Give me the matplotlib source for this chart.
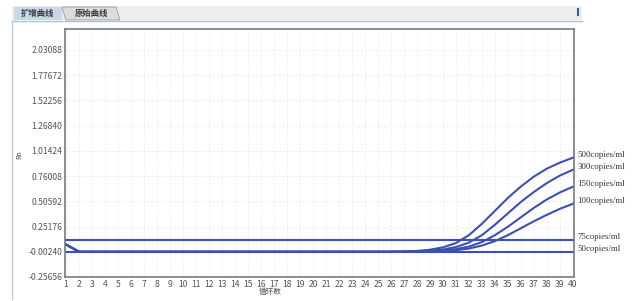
import numpy as np
import matplotlib.pyplot as plt
from matplotlib.patches import Rectangle, Polygon
from matplotlib.lines import Line2D

plt.rcParams['font.family'] = ['Noto Sans CJK SC', 'DejaVu Sans']

# 数据
cycles = list(range(1, 41))
base = [0.07] + [-0.0024] * 25
curve_500 = base + [0.001, 0.006, 0.018, 0.042, 0.085, 0.165, 0.28, 0.41, 0.54, 0.655, 0.755, 0.835, 0.895, 0.945]
curve_300 = base + [-0.002, 0.002, 0.008, 0.02, 0.045, 0.09, 0.165, 0.27, 0.385, 0.50, 0.60, 0.69, 0.765, 0.823]
curve_150 = base + [-0.002, -0.001, 0.003, 0.01, 0.024, 0.05, 0.095, 0.165, 0.25, 0.345, 0.44, 0.525, 0.595, 0.652]
curve_100 = base + [-0.002, -0.002, 0.0, 0.004, 0.013, 0.03, 0.06, 0.105, 0.165, 0.235, 0.305, 0.37, 0.43, 0.481]
curve_75 = [0.117] * 40
curve_50 = [-0.0024] * 40
curves = [curve_500, curve_300, curve_150, curve_100, curve_75, curve_50]
labels = ["500copies/ml", "300copies/ml", "150copies/ml", "100copies/ml", "75copies/ml", "50copies/ml"]

yticks = [-0.25656, -0.00240, 0.25176, 0.50592, 0.76008, 1.01424, 1.26840, 1.52256, 1.77672, 2.03088]
ytick_labels = ["-0.25656", "-0.00240", "0.25176", "0.50592", "0.76008", "1.01424",
                "1.26840", "1.52256", "1.77672", "2.03088"]

W, H = 633, 301
fig = plt.figure(figsize=(W / 100, H / 100), dpi=100)
fig.patch.set_facecolor("white")

def px(x0, y0, w, h):
    return [x0 / W, 1 - (y0 + h) / H, w / W, h / H]

# 标签栏
bar = px(12, 6, 570, 14)
fig.patches.append(Rectangle((bar[0], bar[1]), bar[2], bar[3], transform=fig.transFigure,
                             facecolor="#ededed", edgecolor="none"))
t1 = px(14, 7, 48, 13)
fig.patches.append(Rectangle((t1[0], t1[1]), t1[2], t1[3], transform=fig.transFigure,
                             facecolor="#c9d7ea", edgecolor="none"))
t2 = px(62, 7, 58, 13)
fig.patches.append(Polygon([[t2[0], t2[1] + t2[3]], [t2[0] + t2[2] - 4 / W, t2[1] + t2[3]],
                            [t2[0] + t2[2], t2[1]], [t2[0] + 4 / W, t2[1]]],
                           closed=True, transform=fig.transFigure,
                           facecolor="#dcdcdc", edgecolor="#9a9a9a", lw=0.6))
fig.text(38 / W, 1 - 13.5 / H, "扩增曲线", fontsize=6, color="#3a3a3a", ha="center", va="center",
         fontweight="bold")
fig.text(92 / W, 1 - 13.5 / H, "原始曲线", fontsize=6, color="#3a3a3a", ha="center", va="center",
         fontweight="bold")
fig.lines.append(Line2D([12 / W, 582 / W], [1 - 20.5 / H, 1 - 20.5 / H], transform=fig.transFigure,
                        color="#a9c1e2", lw=1.0))
fig.lines.append(Line2D([12 / W, 12 / W], [1 - 20.5 / H, 1 - 299 / H], transform=fig.transFigure,
                        color="#bccbe8", lw=1.0))
fig.lines.append(Line2D([578 / W, 578 / W], [1 - 9 / H, 1 - 15 / H], transform=fig.transFigure,
                        color="#3a5aa8", lw=1.5))

ax = fig.add_axes(px(65, 29, 509, 248))
for c in curves:
    ax.plot(cycles, c, color="#3c50b4", lw=1.5)

ax.set_xlim(0.92, 40.08)
ax.set_ylim(-0.25656, 2.24)
ax.set_xticks(cycles)
ax.set_xticklabels([str(c) for c in cycles])
ax.set_yticks(yticks)
ax.set_yticklabels(ytick_labels)
ax.tick_params(length=0, labelsize=6.2, colors="#555555", pad=2)
ax.grid(True, color="#ececec", lw=0.7, ls=(0, (2, 2)))
for s in ax.spines.values():
    s.set_color("#7a7a7a")
    s.set_linewidth(1.2)

for c, lab in zip(curves, labels):
    ax.annotate(lab, xy=(40, c[-1]), xytext=(3, 2), textcoords="offset points",
                fontsize=6.3, family="Liberation Serif", color="#333333", va="center",
                annotation_clip=False)

fig.text(19 / W, 1 - 155 / H, "Rn", fontsize=5, color="#555555", rotation=90, ha="center", va="center")
fig.text(270 / W, 1 - 292 / H, "循环数", fontsize=5.5, color="#555555", ha="center", va="center")

fig.savefig("out.png", dpi=100)
